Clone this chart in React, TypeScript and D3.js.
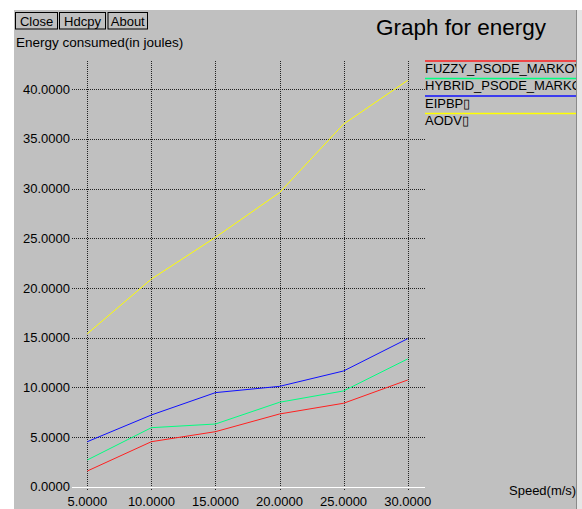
import React from "react";
import * as d3 from "d3";

const speeds = [5, 10, 15, 20, 25, 30];
const fuzzy = [1.58, 4.53, 5.54, 7.32, 8.4, 10.74];
const hybrid = [2.69, 5.94, 6.31, 8.5, 9.64, 12.86];
const eipbp = [4.53, 7.22, 9.47, 10.1, 11.65, 14.9];
const aodv = [15.4, 20.9, 25.1, 29.6, 36.5, 40.9];
const seriesNames = ["FUZZY_PSODE_MARKOV", "HYBRID_PSODE_MARKOV", "EIPBP\u25AF", "AODV\u25AF"];
const seriesColors = ["#ff2020", "#00ff80", "#1010ff", "#ffff00"];
const yTicks = [0, 5, 10, 15, 20, 25, 30, 35, 40];
const xTicks = [5, 10, 15, 20, 25, 30];
const buttons = ["Close", "Hdcpy", "About"];

export default function App() {
  const W = 582, H = 509;
  const x = d3.scaleLinear().domain([5, 30]).range([87.3, 407.7]);
  const y = d3.scaleLinear().domain([0, 40]).range([486.7, 89.3]);
  const line = d3.line<number>().x((_, i) => x(speeds[i])).y((d) => y(d));
  const data = [fuzzy, hybrid, eipbp, aodv];
  const font = "'Liberation Sans', Arial, Helvetica, sans-serif";
  const btnX = [15.5, 59.5, 108];
  const btnW = [42, 46, 39.5];
  return (
    <div style={{ position: "fixed", left: 0, top: 0 }}>
      <svg width={W} height={H} style={{ display: "block" }} fontFamily={font}>
        <rect x={0} y={0} width={W} height={H} fill="#ffffff" />
        <rect x={14} y={10} width={562} height={H - 10} fill="#c0c0c0" />
        <line x1={576.5} x2={576.5} y1={10} y2={H} stroke="#8a8a8a" />
        <rect x={577} y={10} width={5} height={H - 10} fill="#e6e6e6" />
        {buttons.map((b, i) => (
          <g key={b}>
            <rect x={btnX[i]} y={12.5} width={btnW[i]} height={16.5} fill="#c0c0c0" stroke="#000" strokeWidth={1} />
            <text x={btnX[i] + btnW[i] / 2} y={25.5} fontSize={13} textAnchor="middle" fill="#000">{b}</text>
          </g>
        ))}
        <text x={16} y={47} fontSize={13.5} fill="#000">Energy consumed(in joules)</text>
        <text x={376} y={35} fontSize={22.5} fill="#000">Graph for energy</text>
        {/* grid */}
        {yTicks.filter((t) => t !== 0).map((t) => (
          <line key={"h" + t} x1={72} x2={425} y1={Math.round(y(t)) + 0.5} y2={Math.round(y(t)) + 0.5}
            stroke="#222" strokeDasharray="1,1" shapeRendering="crispEdges" />
        ))}
        {xTicks.map((t) => (
          <line key={"v" + t} x1={Math.round(x(t)) + 0.5} x2={Math.round(x(t)) + 0.5} y1={61} y2={491}
            stroke="#222" strokeDasharray="1,1" shapeRendering="crispEdges" />
        ))}
        <line x1={72} x2={425} y1={Math.round(y(0)) + 0.5} y2={Math.round(y(0)) + 0.5} stroke="#ffffff" shapeRendering="crispEdges" />
        {yTicks.map((t) => (
          <text key={"yl" + t} x={70} y={y(t) + 4.5} fontSize={13} textAnchor="end" fill="#000">{t.toFixed(4)}</text>
        ))}
        {xTicks.map((t) => (
          <text key={"xl" + t} x={x(t)} y={506} fontSize={13} textAnchor="middle" fill="#000">{t.toFixed(4)}</text>
        ))}
        <text x={509} y={495} fontSize={13} fill="#000">Speed(m/s)</text>
        {data.map((d, i) => (
          <path key={"s" + i} d={line(d) || ""} fill="none" stroke={seriesColors[i]} strokeWidth={1} />
        ))}
        <clipPath id="legclip">
          <rect x={424} y={50} width={152} height={80} />
        </clipPath>
        <g clipPath="url(#legclip)">
          {seriesNames.map((n, i) => (
            <g key={n}>
              <line x1={425} x2={576} y1={61 + i * 17.5} y2={61 + i * 17.5} stroke={seriesColors[i]} strokeWidth={1.5} />
              <text x={425} y={72.5 + i * 17.5} fontSize={13} fill="#000">{n}</text>
            </g>
          ))}
        </g>
      </svg>
    </div>
  );
}
